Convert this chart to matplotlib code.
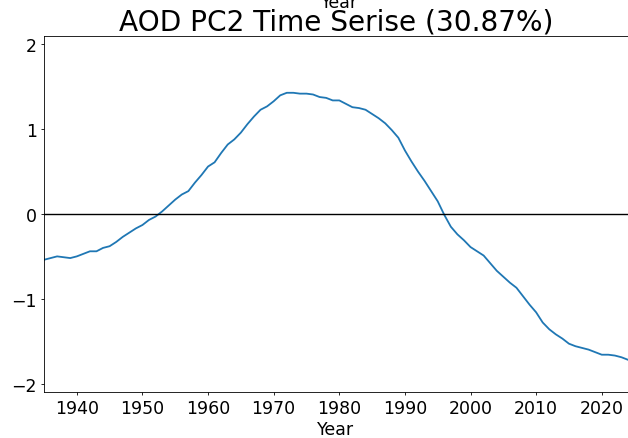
import numpy as np
from matplotlib import pyplot as plt

# PC2 time series
years = np.arange(1935, 2025)
pc2 = [-0.54, -0.52, -0.50, -0.51, -0.52, -0.50, -0.47, -0.44, -0.44, -0.40,
       -0.38, -0.33, -0.27, -0.22, -0.17, -0.13, -0.07, -0.03, 0.03, 0.10,
       0.17, 0.23, 0.27, 0.37, 0.46, 0.56, 0.61, 0.72, 0.82, 0.88,
       0.96, 1.06, 1.15, 1.23, 1.27, 1.33, 1.40, 1.43, 1.43, 1.42,
       1.42, 1.41, 1.38, 1.37, 1.34, 1.34, 1.30, 1.26, 1.25, 1.23,
       1.18, 1.13, 1.07, 0.99, 0.90, 0.75, 0.62, 0.50, 0.39, 0.27,
       0.15, -0.01, -0.15, -0.24, -0.31, -0.39, -0.44, -0.49, -0.58, -0.67,
       -0.74, -0.81, -0.87, -0.97, -1.07, -1.16, -1.28, -1.36, -1.42, -1.47,
       -1.53, -1.56, -1.58, -1.60, -1.63, -1.66, -1.66, -1.67, -1.69, -1.72]
title = "AOD PC2 Time Serise (30.87%)"

fig = plt.figure(figsize=(6.28, 4.39), dpi=100)
ax = fig.add_axes([44/628, 46/439, 584/628, 356/439])
ax.plot(years, pc2, color='tab:blue', lw=1.3)
ax.axhline(0, color='black', lw=1)
ax.set_xlim(1935, 2024)
ax.set_ylim(-2.1, 2.1)
ax.set_yticks([-2, -1, 0, 1, 2])
ax.tick_params(labelsize=12.5, length=2.5, pad=2.5, width=0.6)
for s in ax.spines.values():
    s.set_linewidth(0.6)
ax.set_xlabel('Year', fontsize=12.5, labelpad=2)
ax.set_title(title, fontsize=20.2, pad=4)
ax.spines['right'].set_visible(False)

# leftover label from a panel above, cut off by the crop
fig.text(0.54, 1 - 8/439, 'Year', fontsize=12.5, ha='center', va='baseline')

fig.savefig('out.png', dpi=100)
